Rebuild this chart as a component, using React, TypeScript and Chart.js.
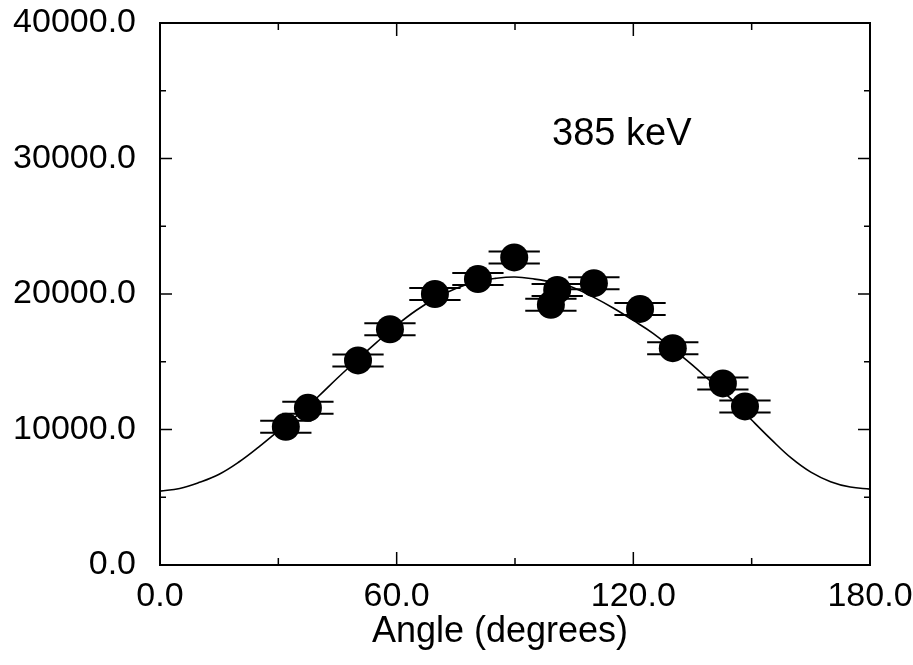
import React, { useEffect, useRef } from "react";
import { Chart, registerables } from "chart.js";

Chart.register(...registerables);

// Measured points (angle in degrees, counts)
const angles = [31.9, 37.5, 50.2, 58.3, 69.7, 80.6, 89.8, 99.1, 100.7, 110.0, 121.7, 130.0, 142.7, 148.3];
const counts = [10200, 11600, 15100, 17400, 20000, 21100, 22700, 19200, 20300, 20800, 18900, 16000, 13400, 11700];
const angleErr = [6.5, 6.5, 6.5, 6.5, 6.5, 6.5, 6.5, 6.5, 6.5, 6.5, 6.5, 6.5, 6.5, 6.5];

// Fitted curve
const fitAngles = [0, 5, 10, 15, 20, 25, 30, 35, 40, 45, 50, 55, 60, 65, 70, 75, 80, 85, 90, 95, 100, 105, 110, 115, 120, 125, 130, 135, 140, 145, 150, 155, 160, 165, 170, 175, 180];
const fitCounts = [5450, 5650, 6100, 6700, 7600, 8700, 9900, 11100, 12400, 13800, 15150, 16450, 17700, 18800, 19700, 20400, 20900, 21150, 21250, 21100, 20850, 20450, 19750, 18950, 18050, 17100, 15950, 14750, 13450, 12200, 10700, 9250, 7900, 6850, 6150, 5750, 5600];

const xTicks = [0, 60, 120, 180];
const xMinorTicks = [30, 90, 150];
const yTicks = [0, 10000, 20000, 30000, 40000];
const yMinorTicks = [5000, 15000, 25000, 35000];

const xTitle = "Angle (degrees)";
const energyLabel = "385 keV";
const energyLabelAt = { x: 99.4, y: 31000 };

const FONT = '"Liberation Sans", Arial, Helvetica, sans-serif';

const zeroPad = (s: any) => {
  s.paddingTop = 0;
  s.paddingBottom = 0;
  s.paddingLeft = 0;
  s.paddingRight = 0;
};

const decorPlugin = {
  id: "decor",
  beforeDatasetsDraw(chart: any) {
    const { ctx, scales } = chart;
    const xs = scales.x;
    const ys = scales.y;
    ctx.save();
    ctx.strokeStyle = "#000";
    ctx.lineWidth = 2;
    angles.forEach((a, i) => {
      const x0 = xs.getPixelForValue(a - angleErr[i]);
      const x1 = xs.getPixelForValue(a + angleErr[i]);
      const py = ys.getPixelForValue(counts[i]);
      for (const dy of [-6, 6]) {
        ctx.beginPath();
        ctx.moveTo(x0, py + dy);
        ctx.lineTo(x1, py + dy);
        ctx.stroke();
      }
    });
    ctx.restore();
  },
  afterDraw(chart: any) {
    const { ctx, chartArea, scales } = chart;
    const xs = scales.x;
    const ys = scales.y;
    const { left, right, top, bottom } = chartArea;
    ctx.save();
    ctx.strokeStyle = "#000";
    ctx.lineWidth = 2;
    ctx.strokeRect(left, top, right - left, bottom - top);
    ctx.lineWidth = 1.5;
    const tickX = (v: number, len: number) => {
      const px = xs.getPixelForValue(v);
      ctx.beginPath();
      ctx.moveTo(px, bottom);
      ctx.lineTo(px, bottom - len);
      ctx.moveTo(px, top);
      ctx.lineTo(px, top + len);
      ctx.stroke();
    };
    const tickY = (v: number, len: number) => {
      const py = ys.getPixelForValue(v);
      ctx.beginPath();
      ctx.moveTo(left, py);
      ctx.lineTo(left + len, py);
      ctx.moveTo(right, py);
      ctx.lineTo(right - len, py);
      ctx.stroke();
    };
    xTicks.forEach((v) => tickX(v, 13));
    xMinorTicks.forEach((v) => tickX(v, 7));
    yTicks.forEach((v) => tickY(v, 12));
    yMinorTicks.forEach((v) => tickY(v, 6));

    ctx.fillStyle = "#000";
    ctx.font = `38px ${FONT}`;
    ctx.textAlign = "left";
    ctx.textBaseline = "alphabetic";
    ctx.fillText(energyLabel, xs.getPixelForValue(energyLabelAt.x), ys.getPixelForValue(energyLabelAt.y));

    // x-axis title (slightly left of the plot centre, as in the original)
    ctx.font = `36px ${FONT}`;
    ctx.textAlign = "center";
    ctx.fillText(xTitle, left + 340, bottom + 77);
    ctx.restore();
  },
};

export default function App() {
  const ref = useRef<HTMLCanvasElement | null>(null);
  useEffect(() => {
    document.body.style.margin = "0";
    const canvas = ref.current;
    if (!canvas) return;
    const chart = new Chart(canvas, {
      type: "scatter",
      data: {
        datasets: [
          {
            type: "line",
            label: "fit",
            data: fitAngles.map((a, i) => ({ x: a, y: fitCounts[i] })),
            borderColor: "#000",
            borderWidth: 1.6,
            pointRadius: 0,
            tension: 0.4,
            fill: false,
            order: 2,
          } as any,
          {
            type: "scatter",
            label: "data",
            data: angles.map((a, i) => ({ x: a, y: counts[i] })),
            backgroundColor: "#000",
            borderColor: "#000",
            borderWidth: 0,
            pointRadius: 14,
            pointHoverRadius: 14,
            order: 1,
          },
        ],
      },
      options: {
        animation: false,
        responsive: false,
        layout: { padding: { top: 23, right: 43, left: 0, bottom: 0 } },
        plugins: { legend: { display: false }, tooltip: { enabled: false } },
        scales: {
          x: {
            type: "linear",
            min: 0,
            max: 180,
            afterBuildTicks: (s: any) => {
              s.ticks = xTicks.map((v) => ({ value: v }));
            },
            afterFit: (s: any) => {
              s.height = 100;
              zeroPad(s);
            },
            grid: { display: false, drawTicks: false },
            border: { display: false },
            ticks: {
              color: "#000",
              font: { family: FONT, size: 34 },
              padding: 11,
              maxRotation: 0,
              callback: (v: any) => Number(v).toFixed(1),
            },
            title: { display: false, text: xTitle },
          },
          y: {
            type: "linear",
            min: 0,
            max: 40000,
            afterBuildTicks: (s: any) => {
              s.ticks = yTicks.map((v) => ({ value: v }));
            },
            afterFit: (s: any) => {
              s.width = 160;
              zeroPad(s);
            },
            grid: { display: false, drawTicks: false },
            border: { display: false },
            ticks: {
              color: "#000",
              font: { family: FONT, size: 34 },
              padding: 24,
              callback: (v: any) => Number(v).toFixed(1),
            },
          },
        },
      },
      plugins: [decorPlugin],
    } as any);
    return () => chart.destroy();
  }, []);
  return <canvas ref={ref} width={913} height={665} style={{ display: "block" }} />;
}
